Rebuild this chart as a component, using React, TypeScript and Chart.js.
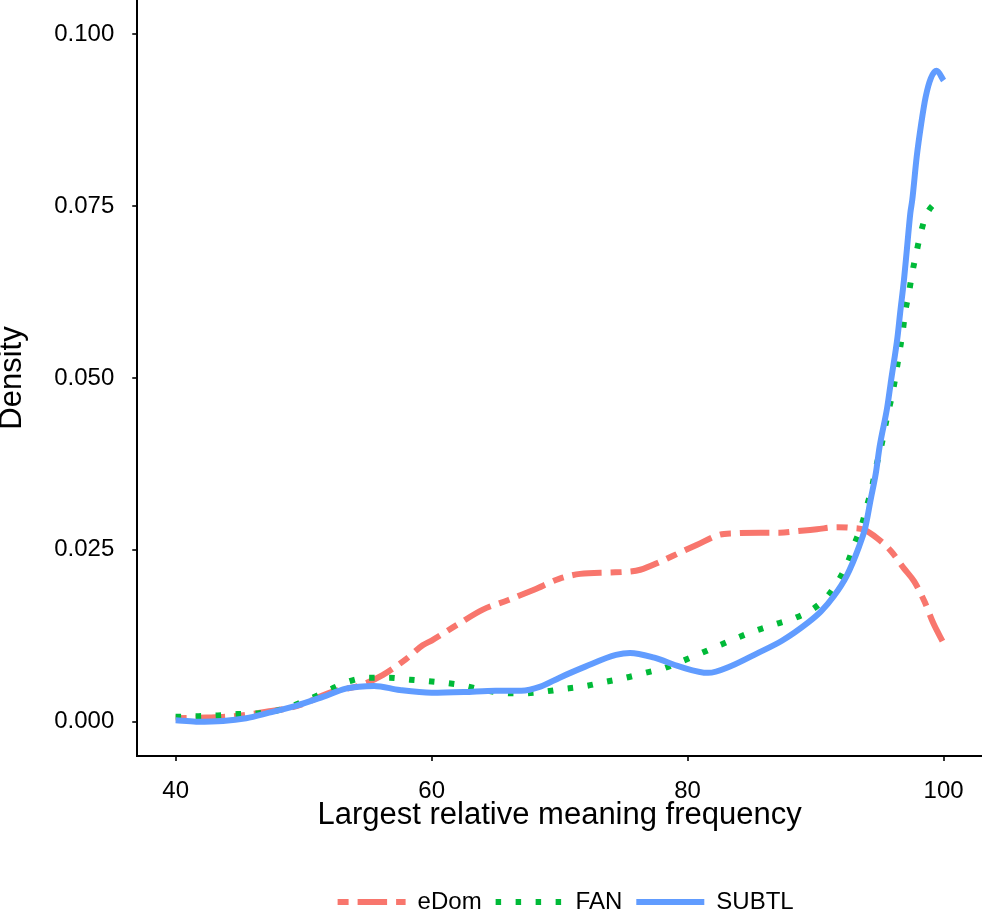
import { useEffect, useRef } from "react";
import { Chart, registerables } from "chart.js";

Chart.register(...registerables);

const FONT = "'Liberation Sans', Arial, Helvetica, sans-serif";

const seriesLabels = ["eDom", "FAN", "SUBTL"];
const xTicks = [40, 60, 80, 100];
const yTicks = [0, 0.025, 0.05, 0.075, 0.1];

const edomX = [40, 42.4, 43.9, 45.5, 47.3, 48.9, 50, 52, 54.6, 56.2, 58, 59.3, 60, 62, 64, 66, 68, 70, 71.6, 73.9, 75.2, 76.3, 77.9, 79.4, 80.7, 82.5, 83.6, 85.7, 87.2, 88.5, 90.1, 91.7, 92.7, 93.8, 94.8, 95.9, 96.9, 97.7, 98.5, 99.2, 100];
const edomY = [0.0005, 0.0006, 0.0007, 0.001, 0.0015, 0.002, 0.0026, 0.0042, 0.0054, 0.0068, 0.0091, 0.0111, 0.0118, 0.0141, 0.0163, 0.0177, 0.0192, 0.0208, 0.0215, 0.0217, 0.0218, 0.0221, 0.0233, 0.0246, 0.0257, 0.0272, 0.0274, 0.0275, 0.0275, 0.0277, 0.028, 0.0283, 0.0282, 0.0279, 0.0267, 0.0248, 0.0223, 0.0204, 0.0175, 0.0143, 0.0114];

const fanX = [40, 41.8, 43.3, 44.8, 46.4, 47.9, 49.4, 50.7, 52.2, 53.6, 55.1, 56.7, 58.3, 59.7, 62, 65, 67, 70.5, 72.1, 73.6, 75.2, 76.7, 78.2, 79.7, 81.1, 82.6, 84, 85.4, 86.9, 88.4, 89.8, 90.9, 91.8, 92.5, 93, 93.6, 94, 94.4, 94.7, 95.1, 95.55, 96.05, 96.3, 96.55, 96.8, 97, 97.3, 97.55, 97.85, 98.2, 98.65, 99.5, 100];
const fanY = [0.0007, 0.0008, 0.0009, 0.0011, 0.0012, 0.0016, 0.0025, 0.0035, 0.0048, 0.0059, 0.0064, 0.0064, 0.0061, 0.0059, 0.0054, 0.0043, 0.0041, 0.0048, 0.0052, 0.0058, 0.0064, 0.0071, 0.0078, 0.0089, 0.01, 0.0112, 0.0123, 0.0133, 0.0142, 0.0151, 0.0164, 0.0182, 0.0206, 0.0231, 0.0257, 0.0286, 0.0313, 0.0341, 0.0369, 0.0398, 0.044, 0.0482, 0.0509, 0.0538, 0.0567, 0.0596, 0.0625, 0.0653, 0.068, 0.071, 0.0737, 0.0756, 0.0758];

const subX = [40, 41.6, 43.7, 45.5, 47.3, 49.4, 51.5, 53.3, 55.5, 57.5, 60, 62.5, 65, 67, 68.5, 70, 72, 74.4, 75.5, 77.4, 79.4, 81.6, 83.4, 85.4, 87.4, 89.4, 90.4, 91.4, 92.4, 93.4, 93.9, 94.3, 94.7, 95, 95.6, 95.9, 96.4, 96.6, 96.9, 97.15, 97.4, 97.55, 97.9, 98.25, 98.6, 99, 99.45, 100];
const subY = [0.0002, 0, 0.0001, 0.0005, 0.0013, 0.0023, 0.0036, 0.0048, 0.0052, 0.0046, 0.0042, 0.0043, 0.0045, 0.0045, 0.0051, 0.0064, 0.008, 0.0097, 0.01, 0.0093, 0.008, 0.0071, 0.0081, 0.0099, 0.0118, 0.0144, 0.016, 0.0182, 0.0211, 0.0255, 0.0284, 0.0323, 0.0361, 0.04, 0.0458, 0.0497, 0.056, 0.0594, 0.0642, 0.0691, 0.074, 0.0759, 0.0822, 0.087, 0.0909, 0.0936, 0.0947, 0.0933];

const toPts = (xs: number[], ys: number[]) => xs.map((x, i) => ({ x, y: ys[i] }));

const noEdgePadding = (axis: any) => {
  axis.paddingTop = 0;
  axis.paddingBottom = 0;
  axis.paddingLeft = 0;
  axis.paddingRight = 0;
};

const legendShift = {
  id: "legendShift",
  afterLayout(chart: any) {
    const lg = chart.legend;
    if (lg) {
      lg.left += 6;
      lg.right += 6;
    }
  },
};

export default function App() {
  const ref = useRef<HTMLCanvasElement>(null);

  useEffect(() => {
    const common = {
      pointRadius: 0,
      pointHoverRadius: 0,
      borderWidth: 6,
      borderCapStyle: "butt" as const,
      cubicInterpolationMode: "monotone" as const,
      fill: false,
    };
    const chart = new Chart(ref.current!, {
      type: "line",
      data: {
        datasets: [
          { ...common, label: seriesLabels[0], data: toPts(edomX, edomY), borderColor: "#F8766D", backgroundColor: "#F8766D", borderDash: [11, 9, 29.5, 9], order: 3 },
          { ...common, label: seriesLabels[1], data: toPts(fanX, fanY), borderColor: "#00BA38", backgroundColor: "#00BA38", borderDash: [5.5, 14.5], order: 2 },
          { ...common, label: seriesLabels[2], data: toPts(subX, subY), borderColor: "#619CFF", backgroundColor: "#619CFF", borderDash: [], order: 1 },
        ],
      },
      plugins: [legendShift],
      options: {
        animation: false,
        responsive: true,
        maintainAspectRatio: false,
        layout: { padding: 0 },
        plugins: {
          tooltip: { enabled: false },
          legend: {
            position: "bottom",
            fullSize: false,
            labels: {
              usePointStyle: true,
              pointStyle: "line",
              pointStyleWidth: 68,
              padding: 14,
              color: "#000",
              font: { family: FONT, size: 24 },
              sort: (a: any, b: any) => a.datasetIndex - b.datasetIndex,
              generateLabels: (ch: any) =>
                Chart.defaults.plugins.legend.labels.generateLabels(ch).map((item: any) => {
                  const ds: any = ch.data.datasets[item.datasetIndex];
                  return {
                    ...item,
                    lineDash: ds.borderDash || [],
                    lineCap: "butt",
                    lineWidth: ds.borderWidth,
                    strokeStyle: ds.borderColor,
                    pointStyle: "line",
                  };
                }),
            },
          },
        },
        scales: {
          x: {
            type: "linear",
            min: 37,
            max: 103,
            afterBuildTicks: (ax: any) => {
              ax.ticks = xTicks.map((v) => ({ value: v }));
            },
            afterFit: noEdgePadding,
            ticks: {
              callback: (v: any) => String(v),
              color: "#000",
              font: { family: FONT, size: 24 },
              padding: 16,
              maxRotation: 0,
            },
            grid: { drawOnChartArea: false, tickLength: 5, color: "#333", tickColor: "#333", lineWidth: 2 },
            border: { display: true, color: "#000", width: 2 },
            title: {
              display: true,
              text: "Largest relative meaning frequency",
              color: "#000",
              font: { family: FONT, size: 31 },
              padding: { top: -25, bottom: 42 },
            },
          },
          y: {
            type: "linear",
            min: -0.005,
            max: 0.105,
            afterBuildTicks: (ax: any) => {
              ax.ticks = yTicks.map((v) => ({ value: v }));
            },
            afterFit: noEdgePadding,
            ticks: {
              callback: (v: any) => Number(v).toFixed(3),
              color: "#000",
              font: { family: FONT, size: 24 },
              padding: 18,
            },
            grid: { drawOnChartArea: false, tickLength: 5, color: "#333", tickColor: "#333", lineWidth: 2 },
            border: { display: true, color: "#000", width: 2 },
            title: {
              display: true,
              text: "Density",
              color: "#000",
              font: { family: FONT, size: 31 },
              padding: { top: -6, bottom: 5 },
            },
          },
        },
      },
    });
    return () => chart.destroy();
  }, []);

  return (
    <div style={{ position: "fixed", left: 0, top: 0, width: 982, height: 910, overflow: "hidden", background: "#fff" }}>
      <div style={{ position: "relative", width: 982, height: 924 }}>
        <canvas ref={ref} />
      </div>
    </div>
  );
}
